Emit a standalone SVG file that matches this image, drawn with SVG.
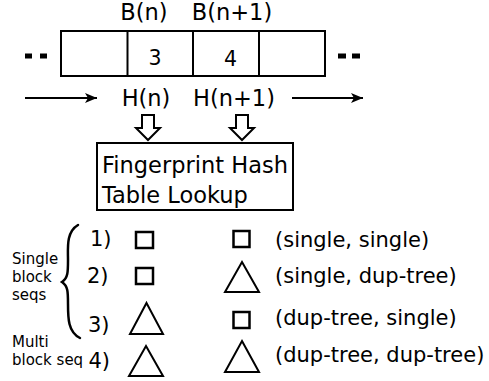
<svg xmlns="http://www.w3.org/2000/svg" width="489" height="381" viewBox="0 0 489 381">
  <defs>
    <marker id="head" viewBox="0 0 12 10" refX="12" refY="5" markerWidth="12" markerHeight="10" markerUnits="userSpaceOnUse" orient="auto">
      <path d="M0,0 L12,5 L0,10 L3,5 Z" fill="#000"/>
    </marker>
  </defs>
  <style>
    text { font-family: "DejaVu Sans", "Liberation Sans", sans-serif; fill: #000; }
    .lg { font-size: 22.5px; }
    .md { font-size: 21px; }
    .dg { font-size: 20.5px; }
    .sm { font-size: 15px; }
    .box { fill: #fff; stroke: #000; stroke-width: 2; }
    .ln { fill: none; stroke: #000; stroke-width: 2; }
    .brace { fill: none; stroke: #000; stroke-width: 2.5; stroke-linecap: round; }
    .sym { fill: none; stroke: #000; stroke-width: 2.5; }
    .tri { fill: none; stroke: #000; stroke-width: 2; stroke-linejoin: miter; }
  </style>

  <!-- block stream -->
  <g id="blocks">
    <rect class="box" x="61" y="31" width="264" height="45"/>
    <line class="ln" x1="127.5" y1="31" x2="127.5" y2="76"/>
    <line class="ln" x1="193" y1="31" x2="193" y2="76"/>
    <line class="ln" x1="259" y1="31" x2="259" y2="76"/>
    <text class="dg" x="155" y="64.5" text-anchor="middle">3</text>
    <text class="dg" x="230.5" y="66" text-anchor="middle">4</text>
    <text class="lg" x="144" y="20" text-anchor="middle">B(n)</text>
    <text class="lg" x="232" y="20" text-anchor="middle">B(n+1)</text>
    <rect x="25" y="53.5" width="7" height="5"/>
    <rect x="40" y="53.5" width="7" height="5"/>
    <rect x="338" y="53.5" width="8" height="5"/>
    <rect x="352" y="53.5" width="8" height="5"/>
  </g>

  <g id="hashes">
    <text class="lg" x="146" y="106" text-anchor="middle">H(n)</text>
    <text class="lg" x="234" y="106" text-anchor="middle">H(n+1)</text>
  </g>

  <!-- lookup table -->
  <g id="lookup">
    <rect class="box" x="97" y="143" width="196" height="67"/>
    <text class="lg" x="102" y="173">Fingerprint Hash</text>
    <text class="lg" x="102" y="203">Table Lookup</text>
  </g>

  <g id="connectors">
    <line class="ln" x1="25" y1="98" x2="97" y2="98" marker-end="url(#head)"/>
    <line class="ln" x1="292" y1="98" x2="363" y2="98" marker-end="url(#head)"/>
    <polygon class="box" points="142,115 154,115 154,128 160,128 148,140 136,128 142,128"/>
    <polygon class="box" points="236,115 248,115 248,128 254,128 242,140 230,128 236,128"/>
  </g>

  <!-- sequence cases -->
  <g id="legend">
    <text class="sm" x="12" y="264">Single</text>
    <text class="sm" x="12" y="282">block</text>
    <text class="sm" x="12" y="300">seqs</text>
    <text class="sm" x="12" y="347">Multi</text>
    <text class="sm" x="12" y="365">block seq</text>
    <path class="brace" d="M78,225 C66,232 68,248 68,260 C68,272 68,278 62,282 C68,286 68,292 68,304 C68,318 68,332 80,338"/>
  </g>

  <g id="case1">
    <text class="md" x="90" y="246">1)</text>
    <rect class="sym" x="136" y="232" width="17" height="16"/>
    <rect class="sym" x="233.5" y="231" width="16" height="16"/>
    <text class="md" x="275" y="247">(single, single)</text>
  </g>
  <g id="case2">
    <text class="md" x="87" y="283">2)</text>
    <rect class="sym" x="136" y="268" width="17" height="16"/>
    <polygon class="tri" points="242,262 259,292 225,292"/>
    <text class="md" x="275" y="283">(single, dup-tree)</text>
  </g>
  <g id="case3">
    <text class="md" x="88" y="332">3)</text>
    <polygon class="tri" points="146.5,303 163,334 130,334"/>
    <rect class="sym" x="233.5" y="312" width="16" height="16"/>
    <text class="md" x="275" y="325">(dup-tree, single)</text>
  </g>
  <g id="case4">
    <text class="md" x="88.5" y="368">4)</text>
    <polygon class="tri" points="146,346 163,376 129,376"/>
    <polygon class="tri" points="242,341 259,372 225,372"/>
    <text class="md" x="275" y="362">(dup-tree, dup-tree)</text>
  </g>
</svg>
